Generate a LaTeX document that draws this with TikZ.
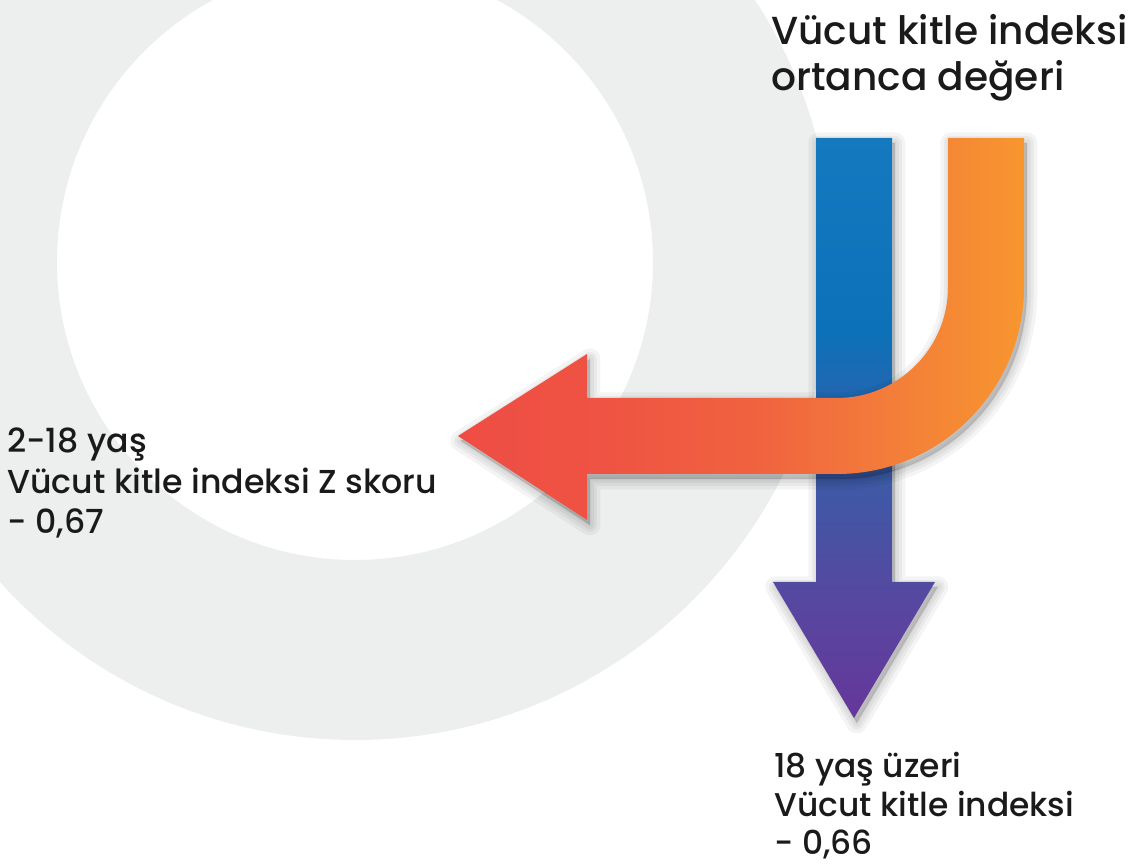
\documentclass[tikz,border=0pt]{standalone}
\usepackage{fontspec}
\setmainfont{Poppins Medium}
\definecolor{RingGray}{HTML}{EDEEEE}
\definecolor{TextBlack}{HTML}{1A1A1A}
\definecolor{BlueTop}{HTML}{1479BF}
\definecolor{BlueMid}{HTML}{0C71B8}
\definecolor{BlueLow}{HTML}{3D5AA6}
\definecolor{PurpleMid}{HTML}{5747A0}
\definecolor{PurpleTip}{HTML}{65379A}
\definecolor{RedTip}{HTML}{EE4D44}
\definecolor{RedMid}{HTML}{EF5343}
\definecolor{OrangeLow}{HTML}{F0633F}
\definecolor{OrangeMid}{HTML}{F37B3A}
\definecolor{OrangeTop}{HTML}{F7962F}
\pgfdeclareverticalshading{bluedown}{100bp}{color(0bp)=(PurpleTip); color(25bp)=(PurpleTip); color(35bp)=(PurpleMid); color(45.5bp)=(BlueLow); color(58.4bp)=(BlueMid); color(75bp)=(BlueTop); color(100bp)=(BlueTop)}
\pgfdeclarehorizontalshading{orangeleft}{100bp}{color(0bp)=(RedTip); color(25bp)=(RedTip); color(37.5bp)=(RedMid); color(51.7bp)=(OrangeLow); color(62.3bp)=(OrangeMid); color(75bp)=(OrangeTop); color(100bp)=(OrangeTop)}
\newcommand{\straightbranch}{(816,728) -- (892,728) -- (892,284) -- (935,284) -- (854,148) -- (773,284) -- (816,284) -- cycle}
\newcommand{\bentbranch}{(948,728) -- (1024,728) -- (1024,579) arc[start angle=0,end angle=-90,radius=187]
  -- (587,392) -- (587,346) -- (458,430) -- (587,512) -- (587,468) -- (837,468) arc[start angle=-90,end angle=0,radius=111] -- cycle}

\begin{document}
\begin{tikzpicture}[
  x=0.025cm, y=0.025cm,
  ring/.style={fill=RingGray,even odd rule},
  shadowlayer/.style={draw=black,fill=black,opacity=0.045,line join=round,line width=#1,xshift=2pt,yshift=-3.5pt},
  lbl/.style={inner sep=0pt,align=left,text=TextBlack,anchor=north west}
]
\useasboundingbox (0,0) rectangle (1130,866);
\begin{scope}
  \clip (0,0) rectangle (1130,866);
  \fill[ring] (355,604) circle[radius=478] circle[radius=298];
\end{scope}
% straight branch
\foreach \w in {15pt,10pt,6pt,2pt}
  \path[shadowlayer=\w] \straightbranch;
\shade[shading=bluedown] \straightbranch;
% bent branch
\foreach \w in {15pt,10pt,6pt,2pt}
  \path[shadowlayer=\w] \bentbranch;
\shade[shading=orangeleft] \bentbranch;
\node[lbl,font=\fontsize{27.8}{32.5}\selectfont] (median) at (771,852) {Vücut kitle indeksi\\ortanca değeri};
\node[lbl,font=\fontsize{23.6}{28.5}\selectfont] (child) at (7,438) {2-18 yaş\\Vücut kitle indeksi Z skoru\\- 0,67};
\node[lbl,font=\fontsize{23.4}{27.5}\selectfont] (adult) at (774,114) {18 yaş üzeri\\Vücut kitle indeksi\\- 0,66};
\end{tikzpicture}
\end{document}
